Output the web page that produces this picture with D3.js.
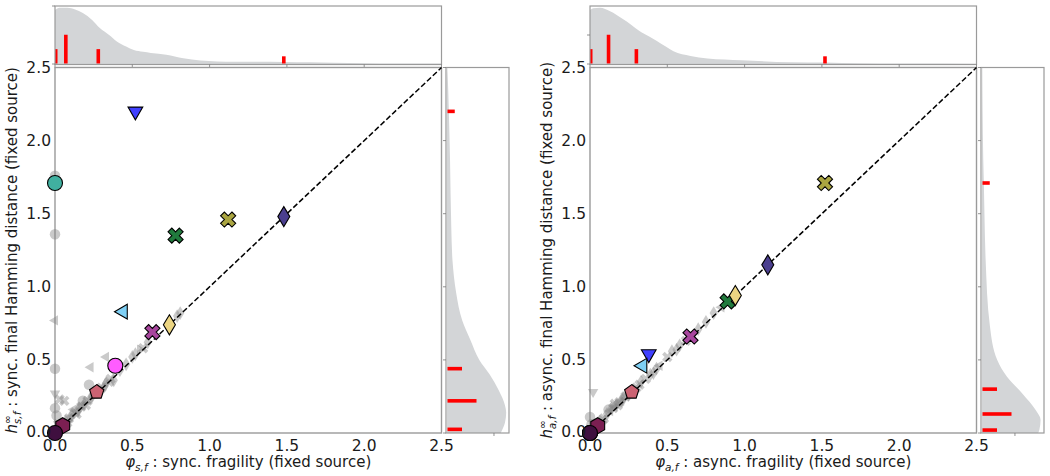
<!DOCTYPE html>
<html><head><meta charset="utf-8">
<script src="https://cdn.jsdelivr.net/npm/d3@7"></script>
<style>body{margin:0;background:#fff} svg{font-family:"DejaVu Sans",sans-serif}</style>
</head><body><svg id="c" width="1050" height="476"></svg>
<script>
// ---------------- data ----------------
const axisTicks = [0, 0.5, 1, 1.5, 2, 2.5];
const axisTickLabels = ["0.0", "0.5", "1.0", "1.5", "2.0", "2.5"];

const srcShapes = ["o", "v", "X", "X", "d", "<", "X", "d", "o", "p", "h", "o"];
const srcColors = ["#40b0a0", "#4040ff", "#217a3d", "#aaa541", "#4b3f8f", "#7fd0f5",
                   "#a8469e", "#ecd582", "#ff5cff", "#cc6373", "#7b1f52", "#3f0f3f"];

const syncX  = [0.00, 0.52, 0.78, 1.12, 1.48, 0.44, 0.63, 0.74, 0.39, 0.27, 0.05, 0.00];
const syncY  = [1.71, 2.20, 1.35, 1.46, 1.48, 0.83, 0.69, 0.74, 0.46, 0.28, 0.05, 0.00];
const asyncX = [0.00, 0.38, 0.89, 1.52, 1.15, 0.34, 0.65, 0.94, 0.00, 0.27, 0.05, 0.00];
const asyncY = [0.00, 0.54, 0.90, 1.71, 1.15, 0.46, 0.66, 0.94, 0.00, 0.28, 0.05, 0.00];

// grey background points (other sources)
const syncGrayX = [0, 0, 0, 0, 0, 0.03, 0.06, 0, 0.01, 0.23, 0.33, 0.22, 0.02, 0.04, 0.07, 0.09, 0.11, 0.13, 0.15, 0.17,
                   0.19, 0.21, 0.24, 0.26, 0.30, 0.33, 0.36, 0.38, 0.42, 0.50, 0.55, 0.60, 0.81, 0.01, 0.03, 0.12, 0.18,
                   0.08, 0.10, 0.14, 0.16, 0.20, 0.23, 0.28, 0.32, 0.35, 0.46, 0.52, 0.57, 0.79, 0.05, 0.02];
const syncGrayY = [1.76, 1.36, 0.77, 0.44, 0.27, 0.23, 0.22, 0.17, 0.12, 0.45, 0.52, 0.33, 0.02, 0.05, 0.08, 0.10, 0.12, 0.14, 0.16, 0.18,
                   0.20, 0.22, 0.25, 0.27, 0.31, 0.34, 0.37, 0.36, 0.43, 0.52, 0.57, 0.62, 0.82, 0.00, 0.01, 0.16, 0.22,
                   0.07, 0.11, 0.13, 0.17, 0.19, 0.24, 0.29, 0.32, 0.35, 0.47, 0.54, 0.58, 0.80, 0.04, 0.06];
const syncGrayShape = ["o", "o", "<", "o", "v", "X", "X", "o", "o", "<", "<", "o", "o", "X", "d", "X", "d", "X", "d", "X",
                       "d", "X", "d", "o", "X", "d", "X", "d", "d", "d", ">", "d", "d", "X", "d", "<", "o",
                       "X", "d", "X", "d", "X", "d", "X", "d", "X", "d", "d", "X", "d", "o", "X"];

const asyncGrayX = [0.02, 0.00, 0.01, 0.03, 0.06, 0.09, 0.11, 0.13, 0.15, 0.17, 0.19, 0.21, 0.23, 0.25, 0.30, 0.33, 0.36,
                    0.41, 0.45, 0.53, 0.56, 0.62, 0.75, 0.80, 0.85, 0.12, 0.16, 0.20,
                    0.08, 0.14, 0.18, 0.22, 0.28, 0.32, 0.39, 0.43, 0.50, 0.58, 0.70, 0.04];
const asyncGrayY = [0.28, 0.11, 0.06, 0.03, 0.07, 0.10, 0.13, 0.15, 0.17, 0.19, 0.21, 0.23, 0.25, 0.26, 0.31, 0.35, 0.37,
                    0.41, 0.46, 0.56, 0.57, 0.63, 0.76, 0.82, 0.86, 0.16, 0.20, 0.22,
                    0.09, 0.17, 0.19, 0.24, 0.29, 0.33, 0.40, 0.44, 0.52, 0.60, 0.71, 0.05];
const asyncGrayShape = ["v", "o", "o", "X", "d", "X", "d", "<", "X", "d", "X", "d", "X", "d", "X", "d", "X",
                        "d", "<", "d", "d", "X", "d", "d", "<", "o", "X", "d",
                        "X", "d", "X", "d", "d", "X", "d", "d", "X", "d", "d", "X"];

// marginal densities (KDE, relative height)
const syncKdeXGrid  = [0, 0.03, 0.08, 0.13, 0.18, 0.24, 0.29, 0.35, 0.40, 0.46, 0.51, 0.57, 0.62, 0.72, 0.83, 0.94,
                       1.05, 1.16, 1.30, 1.48, 1.65, 1.80, 2.00, 2.20, 2.50];
const syncKdeX      = [0.93, 0.97, 0.97, 0.94, 0.88, 0.76, 0.62, 0.50, 0.39, 0.30, 0.24, 0.21, 0.19, 0.16, 0.10, 0.06,
                       0.045, 0.04, 0.04, 0.035, 0.03, 0.022, 0.015, 0.01, 0.01];
const syncKdeYGrid  = [0, 0.07, 0.14, 0.19, 0.29, 0.40, 0.50, 0.64, 0.77, 0.96, 1.18, 1.41, 1.86, 2.20, 2.46, 2.50];
const syncKdeY      = [0.88, 0.95, 0.97, 0.95, 0.85, 0.70, 0.53, 0.38, 0.25, 0.15, 0.09, 0.07, 0.05, 0.03, 0.01, 0.005];

const asyncKdeXGrid = [0, 0.02, 0.065, 0.13, 0.21, 0.27, 0.32, 0.38, 0.43, 0.49, 0.54, 0.65, 0.76, 0.98, 1.30, 1.52,
                       1.74, 2.00, 2.50];
const asyncKdeX     = [0.93, 0.96, 0.97, 0.91, 0.78, 0.67, 0.57, 0.48, 0.40, 0.30, 0.22, 0.14, 0.095, 0.065, 0.03, 0.025,
                       0.012, 0.008, 0.005];
const asyncKdeYGrid = [0, 0.02, 0.09, 0.157, 0.27, 0.385, 0.50, 0.73, 1.18, 1.50, 1.71, 1.885, 2.20, 2.50];
const asyncKdeY     = [0.92, 0.94, 0.96, 0.88, 0.66, 0.41, 0.25, 0.13, 0.06, 0.04, 0.03, 0.02, 0.01, 0.005];

// red marginal bars (counts)
const syncHistXPos   = [0.00, 0.07, 0.28, 1.48];
const syncHistXCount = [2, 4, 2, 1];
const syncHistYPos   = [0.025, 0.22, 0.44, 2.20];
const syncHistYCount = [2, 4, 2, 1];
const asyncHistXPos   = [0.00, 0.12, 0.30, 1.52];
const asyncHistXCount = [2, 4, 2, 1];
const asyncHistYPos   = [0.02, 0.13, 0.30, 1.71];
const asyncHistYCount = [2, 4, 2, 1];

// ---------------- drawing ----------------
const svg = d3.select("#c");
const spineColor = "#9a9a9a";

function shapePath(t, s) {
  const r = s / 2, p = d3.path();
  const poly = pts => { pts.forEach((q, i) => i ? p.lineTo(q[0], q[1]) : p.moveTo(q[0], q[1])); p.closePath(); return p.toString(); };
  const rot = (pts, a) => pts.map(([x, y]) => [x * Math.cos(a) - y * Math.sin(a), x * Math.sin(a) + y * Math.cos(a)]);
  switch (t) {
    case "o": p.arc(0, 0, r, 0, 2 * Math.PI); p.closePath(); return p.toString();
    case "v": return poly([[0, r], [-0.866 * r, -0.5 * r], [0.866 * r, -0.5 * r]]);
    case "^": return poly([[0, -r], [-0.866 * r, 0.5 * r], [0.866 * r, 0.5 * r]]);
    case "<": return poly([[-r, 0], [0.5 * r, -0.866 * r], [0.5 * r, 0.866 * r]]);
    case ">": return poly([[r, 0], [-0.5 * r, -0.866 * r], [-0.5 * r, 0.866 * r]]);
    case "d": return poly([[0, -r * 1.25], [0.75 * r, 0], [0, r * 1.25], [-0.75 * r, 0]]);
    case "X": {
      const a = r / 3;
      const plus = [[-a, -r], [a, -r], [a, -a], [r, -a], [r, a], [a, a], [a, r], [-a, r], [-a, a], [-r, a], [-r, -a], [-a, -a]];
      return poly(rot(plus, Math.PI / 4));
    }
    case "p": return poly(d3.range(5).map(i => { const a = -Math.PI / 2 + i * 2 * Math.PI / 5; return [r * Math.cos(a), r * Math.sin(a)]; }));
    case "h": return poly(d3.range(6).map(i => { const a = -Math.PI / 2 + i * Math.PI / 3; return [r * Math.cos(a), r * Math.sin(a)]; }));
  }
}
const sizeOf = {o: 15, v: 17, "^": 17, "<": 17, ">": 17, d: 16, X: 16, p: 15, h: 16};
const graySizeOf = {o: 10.5, v: 12, "^": 12, "<": 12, ">": 12, d: 11, X: 11, p: 11, h: 11};

function panel(cfg) {
  const ox = cfg.ox;
  const x = d3.scaleLinear().domain([0, 2.5]).range([ox, ox + 386.5]);
  const y = d3.scaleLinear().domain([0, 2.5]).range([433, 67.5]);
  const g = svg.append("g");

  // ----- top marginal -----
  const topY = d3.scaleLinear().domain([0, 1]).range([64, 6]);
  const topCount = d3.scaleLinear().domain([0, 8]).range([63.5, 6]);
  const kx = cfg.kdeXGrid.map((v, i) => [v, cfg.kdeX[i]]);
  g.append("path").datum(kx)
    .attr("d", d3.area().x(d => x(d[0])).y0(topY(0)).y1(d => topY(d[1])).curve(d3.curveMonotoneX))
    .attr("fill", "#d3d5d7");
  g.selectAll(".hx").data(cfg.histXPos).enter().append("rect")
    .attr("x", (d, i) => x(d) - (d === 0 ? 0 : 1.8)).attr("width", (d) => d === 0 ? 2.5 : 3.6)
    .attr("y", (d, i) => topCount(cfg.histXCount[i]))
    .attr("height", (d, i) => topCount(0) - topCount(cfg.histXCount[i]))
    .attr("fill", "#ff0000");
  g.append("rect").attr("x", x(0)).attr("y", 6).attr("width", x(2.5) - x(0)).attr("height", 58.5)
    .attr("fill", "none").attr("stroke", spineColor).attr("stroke-width", 1.2);
  g.selectAll(".txk").data(axisTicks).enter().append("line")
    .attr("x1", d => x(d)).attr("x2", d => x(d)).attr("y1", 64.5).attr("y2", 67.5)
    .attr("stroke", "#777").attr("stroke-width", 0.8);
  g.selectAll(".tyk").data(cfg.topTicks).enter().append("line")
    .attr("x1", x(0) - 3).attr("x2", x(0)).attr("y1", d => topY(d)).attr("y2", d => topY(d))
    .attr("stroke", "#777").attr("stroke-width", 0.8);

  // ----- right marginal -----
  const rx0 = ox + 391;
  const rightX = d3.scaleLinear().domain([0, 1]).range([rx0 + 1, rx0 + 62]);
  const rightCount = d3.scaleLinear().domain([0, 8]).range([rx0 + 1.5, rx0 + 59.5]);
  const ky = cfg.kdeYGrid.map((v, i) => [v, cfg.kdeY[i]]);
  g.append("path").datum(ky)
    .attr("d", d3.area().y(d => y(d[0])).x0(rightX(0)).x1(d => rightX(d[1])).curve(d3.curveMonotoneY))
    .attr("fill", "#d3d5d7");
  g.selectAll(".hy").data(cfg.histYPos).enter().append("rect")
    .attr("y", d => y(d) - 1.8).attr("height", 3.6)
    .attr("x", rightCount(0))
    .attr("width", (d, i) => rightCount(cfg.histYCount[i]) - rightCount(0))
    .attr("fill", "#ff0000");
  g.append("rect").attr("x", rx0).attr("y", 67.5).attr("width", 63).attr("height", 433 - 67.5)
    .attr("fill", "none").attr("stroke", spineColor).attr("stroke-width", 1.2);
  g.selectAll(".ryk").data(axisTicks).enter().append("line")
    .attr("x1", rx0 - 3).attr("x2", rx0).attr("y1", d => y(d)).attr("y2", d => y(d))
    .attr("stroke", "#777").attr("stroke-width", 0.8);
  g.selectAll(".rxk").data(cfg.rightTicks).enter().append("line")
    .attr("x1", d => rightX(d)).attr("x2", d => rightX(d)).attr("y1", 433).attr("y2", 436)
    .attr("stroke", "#777").attr("stroke-width", 0.8);

  // ----- main axes -----
  g.append("rect").attr("x", x(0)).attr("y", y(2.5)).attr("width", x(2.5) - x(0)).attr("height", y(0) - y(2.5))
    .attr("fill", "none").attr("stroke", spineColor).attr("stroke-width", 1.4);

  // grey points
  g.selectAll(".gp").data(cfg.grayX).enter().append("path")
    .attr("d", (d, i) => shapePath(cfg.grayShape[i], graySizeOf[cfg.grayShape[i]]))
    .attr("transform", (d, i) => `translate(${x(d)},${y(cfg.grayY[i])})`)
    .attr("fill", "#808080").attr("fill-opacity", 0.42);

  // diagonal
  g.append("line").attr("x1", x(0)).attr("y1", y(0)).attr("x2", x(2.5)).attr("y2", y(2.5))
    .attr("stroke", "#000").attr("stroke-width", 1.5).attr("stroke-dasharray", "5.5,2.5");

  // source markers
  g.selectAll(".sp").data(cfg.px).enter().append("path")
    .attr("d", (d, i) => shapePath(srcShapes[i], sizeOf[srcShapes[i]]))
    .attr("transform", (d, i) => `translate(${x(d)},${y(cfg.py[i])})`)
    .attr("fill", (d, i) => srcColors[i]).attr("stroke", "#000").attr("stroke-width", 1.1)
    .attr("stroke-linejoin", "miter");

  // tick labels
  g.selectAll(".xl").data(axisTicks).enter().append("text")
    .attr("x", d => x(d)).attr("y", 451).attr("text-anchor", "middle")
    .attr("font-size", 15.5).attr("fill", "#1a1a1a").text((d, i) => axisTickLabels[i]);
  g.selectAll(".yl").data(axisTicks).enter().append("text")
    .attr("x", x(0) - 4).attr("y", d => y(d) + 5.5 - (d === 0 ? 1.5 : 0)).attr("text-anchor", "end")
    .attr("font-size", 15.5).attr("fill", "#1a1a1a").text((d, i) => axisTickLabels[i]);

  // x label
  const xl = g.append("text").attr("x", (x(0) + x(2.5)) / 2).attr("y", 467).attr("text-anchor", "middle")
    .attr("font-size", 15).attr("fill", "#1a1a1a");
  xl.append("tspan").attr("font-style", "italic").text("φ");
  xl.append("tspan").attr("font-style", "italic").attr("font-size", 10.5).attr("dy", 4).text(cfg.sub);
  xl.append("tspan").attr("dy", -4).text(" : " + cfg.xText);

  // y label
  const cx = ox - 38, cy = (y(0) + y(2.5)) / 2;
  const yl = g.append("text").attr("transform", `translate(${cx},${cy}) rotate(-90)`)
    .attr("text-anchor", "middle").attr("font-size", 15).attr("fill", "#1a1a1a");
  yl.append("tspan").attr("font-style", "italic").text("h");
  yl.append("tspan").attr("font-size", 10.5).attr("dy", -6).text("∞");
  yl.append("tspan").attr("font-style", "italic").attr("font-size", 10.5).attr("dx", -9).attr("dy", 10).text(cfg.sub);
  yl.append("tspan").attr("dy", -4).text(" : " + cfg.yText);
}

panel({
  ox: 55, px: syncX, py: syncY, grayX: syncGrayX, grayY: syncGrayY, grayShape: syncGrayShape,
  kdeXGrid: syncKdeXGrid, kdeX: syncKdeX, kdeYGrid: syncKdeYGrid, kdeY: syncKdeY,
  histXPos: syncHistXPos, histXCount: syncHistXCount, histYPos: syncHistYPos, histYCount: syncHistYCount,
  topTicks: [0, 1], rightTicks: [0.77], sub: "s,f",
  xText: "sync. fragility (fixed source)", yText: "sync. final Hamming distance (fixed source)"
});
panel({
  ox: 590, px: asyncX, py: asyncY, grayX: asyncGrayX, grayY: asyncGrayY, grayShape: asyncGrayShape,
  kdeXGrid: asyncKdeXGrid, kdeX: asyncKdeX, kdeYGrid: asyncKdeYGrid, kdeY: asyncKdeY,
  histXPos: asyncHistXPos, histXCount: asyncHistXCount, histYPos: asyncHistYPos, histYCount: asyncHistYCount,
  topTicks: [0, 0.5], rightTicks: [0.54], sub: "a,f",
  xText: "async. fragility (fixed source)", yText: "async. final Hamming distance (fixed source)"
});
</script></body></html>
